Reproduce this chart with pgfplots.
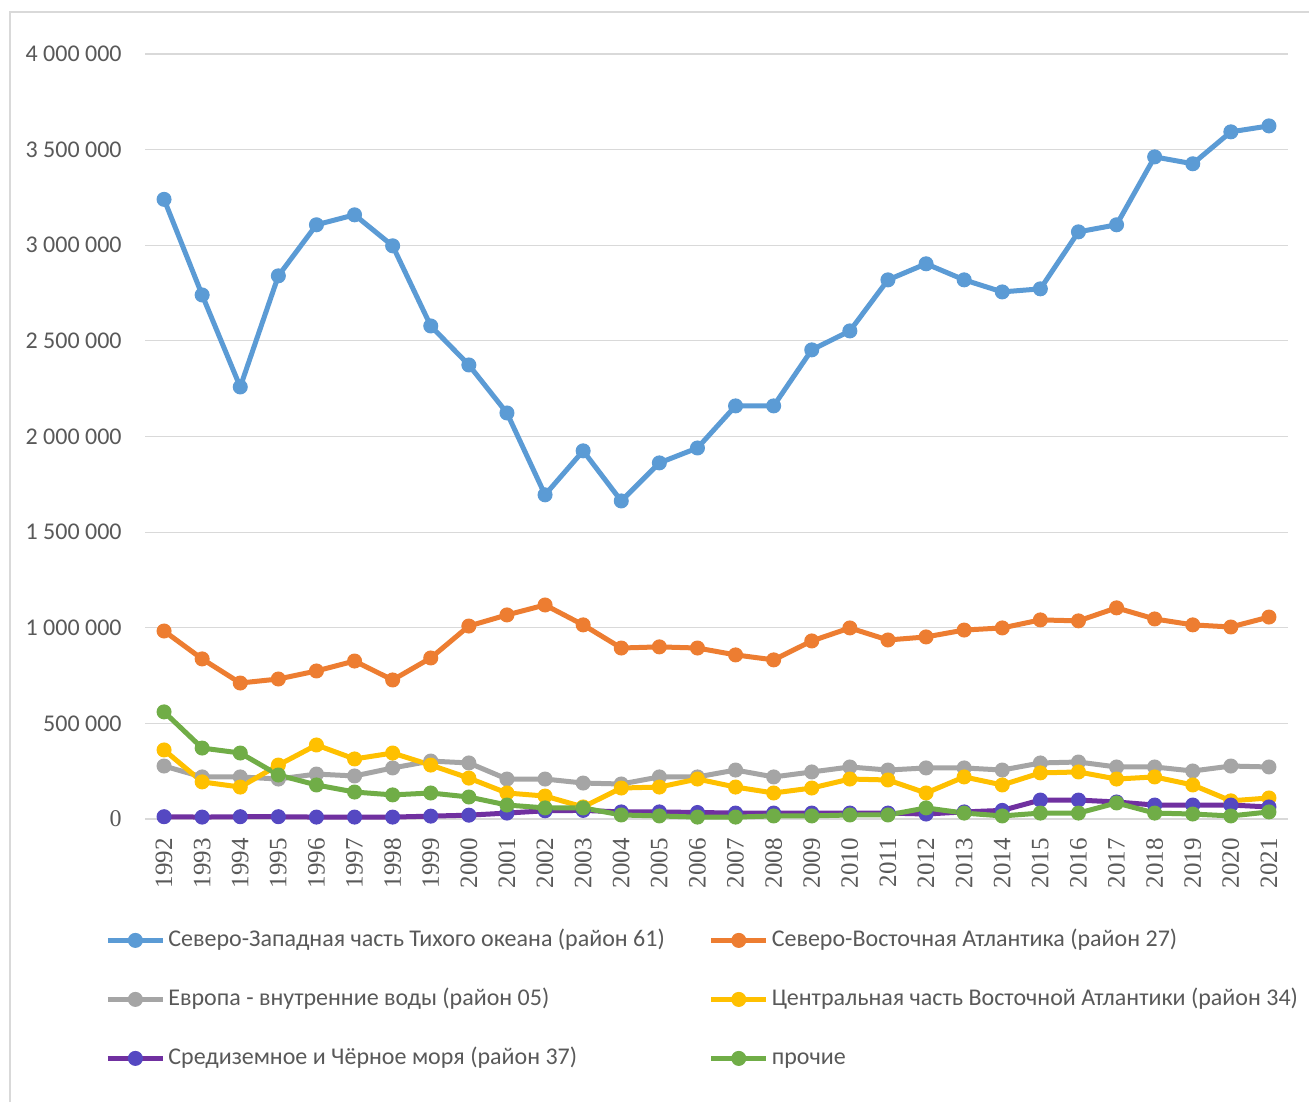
\documentclass[border=0pt]{standalone}
\usepackage{fontspec}
\setmainfont{Carlito}
\newfontfamily\serifnum{Liberation Serif}
\usepackage{pgfplots}
\pgfplotsset{compat=1.18}

\definecolor{cBlue}{HTML}{5B9BD5}
\definecolor{cOrange}{HTML}{ED7D31}
\definecolor{cGray}{HTML}{A5A5A5}
\definecolor{cYellow}{HTML}{FFC000}
\definecolor{cPurple}{HTML}{7030A0}
\definecolor{cPurpleMk}{HTML}{5548C2}
\definecolor{cGreen}{HTML}{70AD47}
\definecolor{cText}{HTML}{595959}
\definecolor{cGrid}{HTML}{D9D9D9}

\pgfplotsset{
  series/.style={line width=2.5pt, mark=*, mark size=3.5pt,
    mark options={solid, line width=0.5pt, draw=#1, fill=#1}, color=#1},
}

\begin{document}
\begin{tikzpicture}
\path[use as bounding box] (0,0) rectangle (654.5pt,551pt);
\fill[white] (0,0) rectangle (654.5pt,551pt);
\draw[cGrid, line width=0.8pt] (5pt,0) -- (5pt,545pt) -- (654.5pt,545pt);
\begin{axis}[
    at={(72.5pt,141.5pt)}, anchor=south west,
    scale only axis,
    width=571.5pt, height=382.5pt,
    xmin=1991.5, xmax=2021.5,
    ymin=0, ymax=4000000,
    scaled y ticks=false,
    xtick={1992,...,2021},
    ytick={0,500000,...,4000000},
    yticklabels={{\serifnum 0},500 000,1 000 000,1 500 000,2 000 000,2 500 000,3 000 000,3 500 000,4 000 000},
    xticklabel style={rotate=90, anchor=east, inner sep=0pt,
      font=\serifnum\fontsize{12.5}{14}\selectfont,
      /pgf/number format/1000 sep={}, /pgf/number format/assume math mode=true},
    xticklabel shift=9.5pt,
    yticklabel style={anchor=east, inner sep=0pt},
    yticklabel shift=11.5pt,
    tick label style={text=cText},
    major tick length=0pt,
    axis line style={draw=none},
    ymajorgrids, grid style={cGrid, line width=0.6pt},
    font=\fontsize{12}{14}\selectfont,
    legend columns=2,
    legend cell align=left,
    legend style={at={(rel axis cs:0,0)}, anchor=north west,
      xshift=-20pt, yshift=-54.5pt,
      draw=none, fill=none, inner sep=0pt, text=cText,
      font=\fontsize{12}{14}\selectfont,
      row sep=17.5pt,
      nodes={inner sep=0pt, text height=9pt, text depth=3pt},
      /tikz/every odd column/.append style={column sep=1.5pt},
      /tikz/every even column/.append style={column sep=22pt}},
    legend image code/.code={\draw[mark repeat=2,mark phase=2,#1] plot coordinates {(0pt,0pt) (13.75pt,0pt) (27.5pt,0pt)};},
]
\addplot[series=cBlue] coordinates {
 (1992,3240000) (1993,2740000) (1994,2259000) (1995,2840000) (1996,3107000)
 (1997,3159000) (1998,2997000) (1999,2578000) (2000,2374000) (2001,2123000)
 (2002,1695000) (2003,1925000) (2004,1663000) (2005,1862000) (2006,1940000)
 (2007,2160000) (2008,2160000) (2009,2453000) (2010,2552000) (2011,2819000)
 (2012,2903000) (2013,2819000) (2014,2756000) (2015,2772000) (2016,3070000)
 (2017,3107000) (2018,3462000) (2019,3426000) (2020,3593000) (2021,3624000)
};
\addlegendentry{Северо-Западная часть Тихого океана (район 61)}
\addplot[series=cOrange] coordinates {
 (1992,983000) (1993,837000) (1994,711000) (1995,732000) (1996,774000)
 (1997,826000) (1998,727000) (1999,842000) (2000,1009000) (2001,1067000)
 (2002,1119000) (2003,1015000) (2004,894000) (2005,900000) (2006,894000)
 (2007,858000) (2008,832000) (2009,931000) (2010,999000) (2011,936000)
 (2012,952000) (2013,988000) (2014,999000) (2015,1041000) (2016,1036000)
 (2017,1104000) (2018,1046000) (2019,1015000) (2020,1004000) (2021,1056000)
};
\addlegendentry{Северо-Восточная Атлантика (район 27)}
\addplot[series=cGray] coordinates {
 (1992,277000) (1993,220000) (1994,220000) (1995,209000) (1996,235000)
 (1997,225000) (1998,267000) (1999,303000) (2000,293000) (2001,209000)
 (2002,209000) (2003,188000) (2004,183000) (2005,220000) (2006,220000)
 (2007,256000) (2008,220000) (2009,246000) (2010,272000) (2011,256000)
 (2012,267000) (2013,267000) (2014,256000) (2015,293000) (2016,298000)
 (2017,272000) (2018,272000) (2019,251000) (2020,277000) (2021,272000)
};
\addlegendentry{Европа - внутренние воды (район 05)}
\addplot[series=cYellow] coordinates {
 (1992,361000) (1993,194000) (1994,167000) (1995,282000) (1996,387000)
 (1997,314000) (1998,345000) (1999,282000) (2000,214000) (2001,136000)
 (2002,120000) (2003,63000) (2004,162000) (2005,167000) (2006,209000)
 (2007,167000) (2008,136000) (2009,162000) (2010,209000) (2011,204000)
 (2012,136000) (2013,220000) (2014,178000) (2015,241000) (2016,246000)
 (2017,209000) (2018,220000) (2019,178000) (2020,95000) (2021,110000)
};
\addlegendentry{Центральная часть Восточной Атлантики (район 34)}
\addplot[cPurple, line width=2.5pt, mark=*, mark size=3.5pt,
  mark options={solid, line width=0.5pt, draw=cPurpleMk, fill=cPurpleMk}] coordinates {
 (1992,12000) (1993,10000) (1994,12000) (1995,12000) (1996,10000)
 (1997,10000) (1998,10000) (1999,15000) (2000,20000) (2001,31000)
 (2002,43000) (2003,45000) (2004,37000) (2005,37000) (2006,34000)
 (2007,31000) (2008,31000) (2009,31000) (2010,31000) (2011,31000)
 (2012,26000) (2013,37000) (2014,45000) (2015,99000) (2016,99000)
 (2017,89000) (2018,73000) (2019,73000) (2020,73000) (2021,63000)
};
\addlegendentry{Средиземное и Чёрное моря (район 37)}
\addplot[series=cGreen] coordinates {
 (1992,560000) (1993,371000) (1994,345000) (1995,230000) (1996,178000)
 (1997,141000) (1998,126000) (1999,136000) (2000,115000) (2001,73000)
 (2002,58000) (2003,58000) (2004,21000) (2005,16000) (2006,10000)
 (2007,10000) (2008,16000) (2009,16000) (2010,21000) (2011,21000)
 (2012,58000) (2013,31000) (2014,16000) (2015,31000) (2016,31000)
 (2017,84000) (2018,31000) (2019,26000) (2020,16000) (2021,37000)
};
\addlegendentry{прочие}
\end{axis}
\end{tikzpicture}
\end{document}
